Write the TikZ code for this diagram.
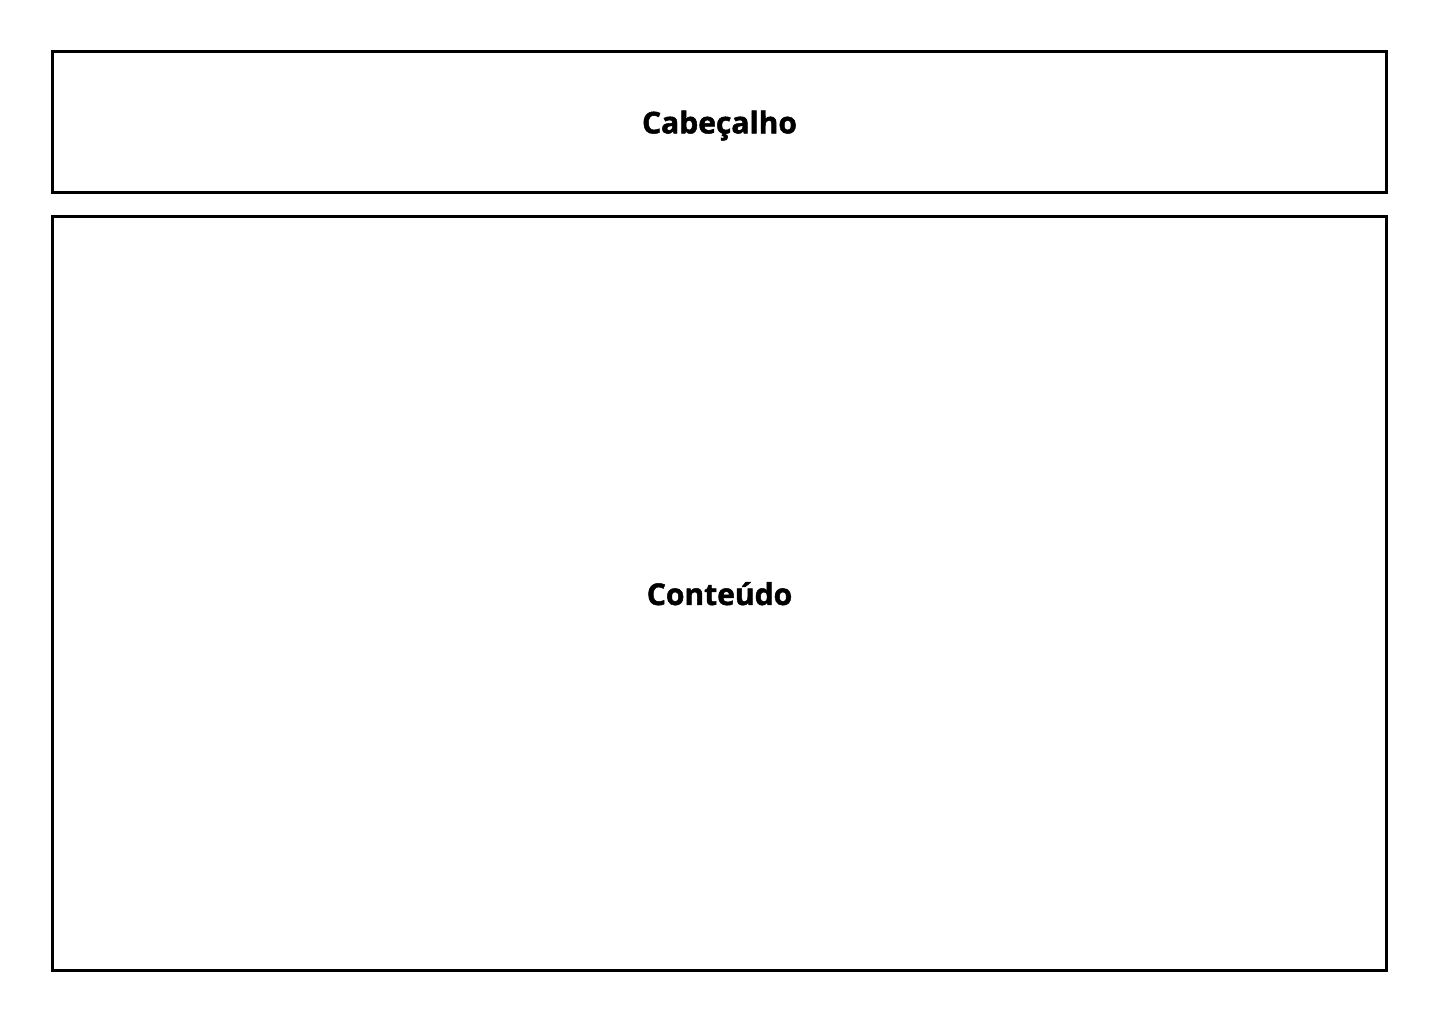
\documentclass[tikz,border=0pt]{standalone}
\usepackage{fontspec}
\setmainfont{Open Sans}[BoldFeatures={FakeBold=1.6}]
\usetikzlibrary{positioning}

\tikzset{
  panel/.style={draw, line width=3pt, rectangle, outer sep=0pt, minimum width=1334pt,
    text depth=0pt, font=\fontsize{30}{36}\selectfont\bfseries}
}

\begin{document}
\begin{tikzpicture}[x=1pt, y=1pt]
\useasboundingbox[fill=white] (0,0) rectangle (1440,-1024);
\node[panel, minimum height=141pt] (header) at (719.5,-122) {Cabeçalho};
\node[panel, minimum height=754pt, below=24pt of header] (content) {Conteúdo};
\end{tikzpicture}
\end{document}
